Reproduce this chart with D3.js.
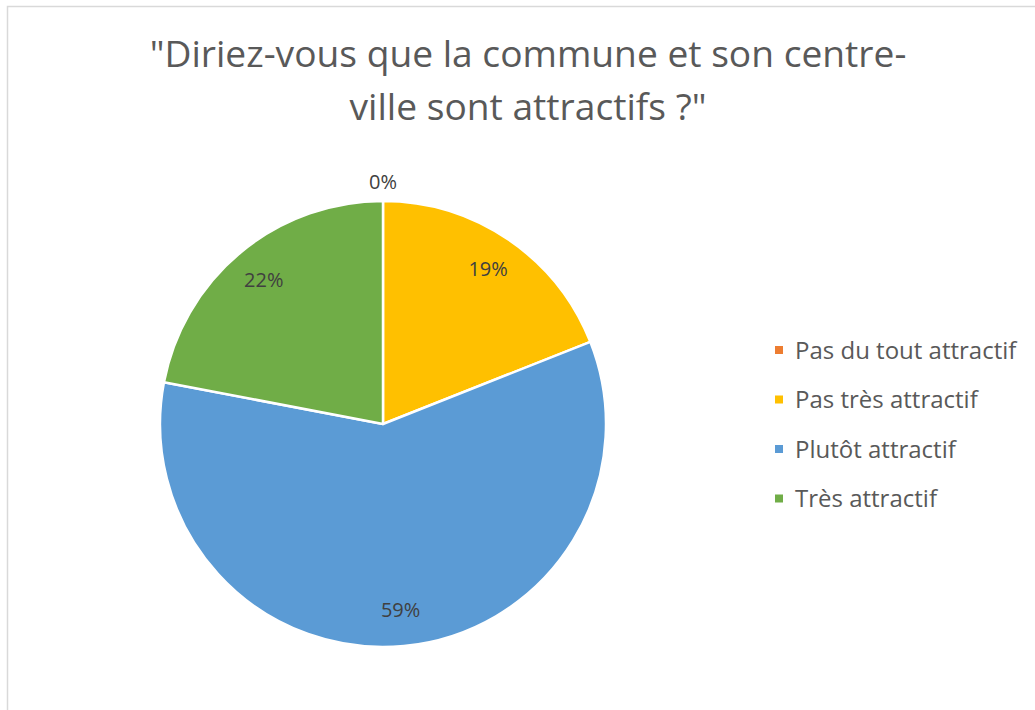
<!DOCTYPE html>
<html>
<head>
<meta charset="utf-8">
<script src="https://cdn.jsdelivr.net/npm/d3@7"></script>
<style>
  body { margin: 0; background: #fff; }
  text { font-family: "Open Sans", "Noto Sans", sans-serif; }
</style>
</head>
<body>
<div id="chart"></div>
<script>
// data
var categories = ["Pas du tout attractif", "Pas très attractif", "Plutôt attractif", "Très attractif"];
var values = [0, 19, 59, 22];
var colors = ["#ED7D31", "#FFC000", "#5B9BD5", "#70AD47"];
var titleLines = ["\"Diriez-vous que la commune et son centre-", "ville sont attractifs ?\""];

var width = 1035, height = 710;
var cx = 383, cy = 424, radius = 223;

var svg = d3.select("#chart").append("svg")
    .attr("width", width)
    .attr("height", height);

// chart frame
svg.append("rect")
    .attr("x", 7.5).attr("y", 6.5)
    .attr("width", width).attr("height", height)
    .attr("fill", "#fff")
    .attr("stroke", "#d9d9d9")
    .attr("stroke-width", 1.5);

// title
var title = svg.append("g").attr("class", "title");
title.selectAll("text")
    .data(titleLines)
    .enter().append("text")
    .attr("x", 528)
    .attr("y", function(d, i) { return 67 + i * 53; })
    .attr("text-anchor", "middle")
    .style("font-size", "34px")
    .style("fill", "#595959")
    .text(function(d) { return d; });
// fit first line to the width seen in the picture
var w0 = title.select("text").node().getComputedTextLength();
title.selectAll("text").style("font-size", (34 * 757 / w0) + "px");

var data = categories.map(function(c, i) { return {name: c, value: values[i], color: colors[i]}; });
var total = d3.sum(values);

var pie = d3.pie()
    .sort(null)
    .value(function(d) { return d.value; });

var arc = d3.arc().innerRadius(0).outerRadius(radius);
var labelArc = d3.arc().innerRadius(187).outerRadius(187);
var outsideArc = d3.arc().innerRadius(242).outerRadius(242);

var g = svg.append("g").attr("transform", "translate(" + cx + "," + cy + ")");

var slices = g.selectAll("g.slice")
    .data(pie(data))
    .enter().append("g")
    .attr("class", "slice");

slices.append("path")
    .attr("d", arc)
    .attr("fill", function(d) { return d.data.color; })
    .attr("stroke", "#fff")
    .attr("stroke-width", 2.5)
    .attr("stroke-linejoin", "round");

// data labels
slices.append("text")
    .attr("transform", function(d) {
        var a = d.data.value / total < 0.02 ? outsideArc : labelArc;
        return "translate(" + a.centroid(d) + ")";
    })
    .attr("dy", "0.35em")
    .attr("text-anchor", "middle")
    .style("font-size", "20px")
    .style("fill", "#404040")
    .text(function(d) { return Math.round(d.data.value / total * 100) + "%"; });

// legend
var legend = svg.append("g").attr("transform", "translate(775, 350)");
var item = legend.selectAll("g")
    .data(data)
    .enter().append("g")
    .attr("transform", function(d, i) { return "translate(0," + (i * 49.5) + ")"; });

item.append("rect")
    .attr("x", 0).attr("y", -4)
    .attr("width", 8).attr("height", 8)
    .attr("fill", function(d) { return d.color; });

var legText = item.append("text")
    .attr("x", 20)
    .attr("dy", "0.36em")
    .style("font-size", "21px")
    .style("fill", "#595959")
    .text(function(d) { return d.name; });
var lw = legText.node().getComputedTextLength();
legText.style("font-size", Math.min(24, 21 * 227 / lw) + "px");
</script>
</body>
</html>
